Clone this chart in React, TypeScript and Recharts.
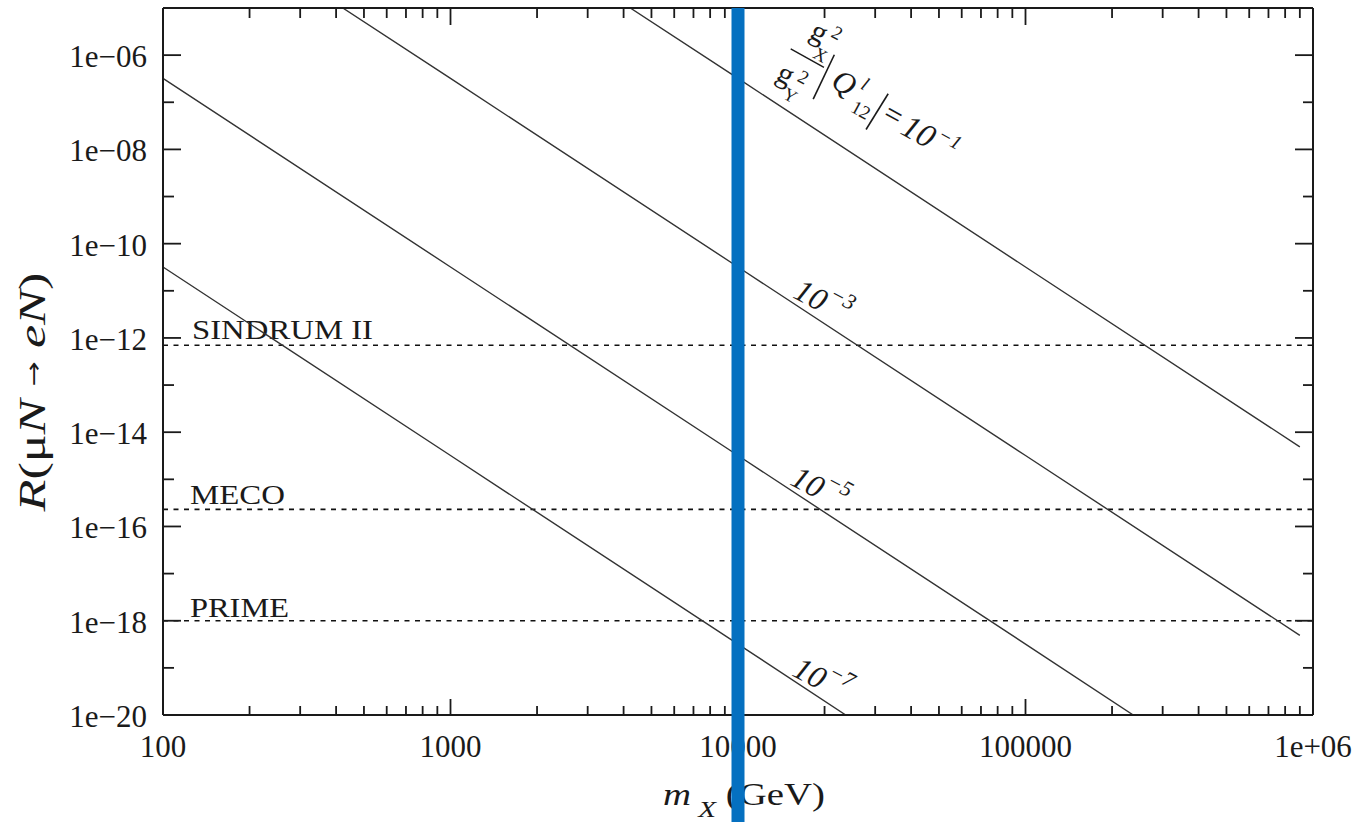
import React from 'react';
import { LineChart, Line, XAxis, YAxis, ReferenceLine } from 'recharts';

const SERIF = '"Liberation Serif", "Times New Roman", serif';
const INK = '#1a1a1a';
const BLUE = '#0570c0';
const W = 1358;
const H = 822;

// curve labelled 10^-7
const mass7 = [100, 1000, 10000, 23700];
const rate7 = [3.2e-11, 3.2e-15, 3.2e-19, 1e-20];
// curve labelled 10^-5
const mass5 = [100, 1000, 10000, 100000, 237000];
const rate5 = [3.2e-7, 3.2e-11, 3.2e-15, 3.2e-19, 1e-20];
// curve labelled 10^-3
const mass3 = [422, 1000, 10000, 100000, 900000];
const rate3 = [1e-5, 3.2e-7, 3.2e-11, 3.2e-15, 4.9e-19];
// curve labelled 10^-1
const mass1 = [4220, 10000, 100000, 900000];
const rate1 = [1e-5, 3.2e-7, 3.2e-11, 4.9e-15];

const limitNames = ['SINDRUM II', 'MECO', 'PRIME'];
const limitValues = [7e-13, 2.3e-16, 1e-18];

const markerMass = 10000;

const xTicks = [
  100, 200, 300, 400, 500, 600, 700, 800, 900,
  1000, 2000, 3000, 4000, 5000, 6000, 7000, 8000, 9000,
  10000, 20000, 30000, 40000, 50000, 60000, 70000, 80000, 90000,
  100000, 200000, 300000, 400000, 500000, 600000, 700000, 800000, 900000,
  1000000,
];
const xLabels: Record<number, string> = {
  100: '100', 1000: '1000', 10000: '10000', 100000: '100000', 1000000: '1e+06',
};
const yTicks = [
  1e-20, 1e-19, 1e-18, 1e-17, 1e-16, 1e-15, 1e-14, 1e-13,
  1e-12, 1e-11, 1e-10, 1e-9, 1e-8, 1e-7, 1e-6,
];

const toPoints = (ms: number[], rs: number[]) => ms.map((m, i) => ({ m, r: rs[i] }));
const curves = [
  toPoints(mass7, rate7),
  toPoints(mass5, rate5),
  toPoints(mass3, rate3),
  toPoints(mass1, rate1),
];

const exp10 = (v: number) => Math.round(Math.log10(v));
const isDecade = (v: number) => Math.abs(Math.log10(v) - exp10(v)) < 1e-6;
const yLabel = (v: number) => {
  const e = exp10(v);
  return `1e${e < 0 ? '\u2212' : '+'}${String(Math.abs(e)).padStart(2, '0')}`;
};

function BottomTick({ x, y, payload }: any) {
  const v = payload.value;
  const major = isDecade(v);
  return (
    <g>
      <line x1={x} x2={x} y1={y} y2={y - (major ? 16 : 9)} stroke={INK} strokeWidth={1.8} />
      {major && (
        <text x={x} y={y + 42} textAnchor="middle" fontSize={31} fontFamily={SERIF} fill={INK}>
          {xLabels[v]}
        </text>
      )}
    </g>
  );
}

function TopTick({ x, y, payload }: any) {
  const major = isDecade(payload.value);
  return <line x1={x} x2={x} y1={y} y2={y + (major ? 17 : 10)} stroke={INK} strokeWidth={1.8} />;
}

function LeftTick({ x, y, payload }: any) {
  const v = payload.value;
  const major = exp10(v) % 2 === 0;
  return (
    <g>
      <line x1={x} x2={x + (major ? 18 : 11)} y1={y} y2={y} stroke={INK} strokeWidth={1.8} />
      {major && (
        <text x={x - 16} y={y + 12} textAnchor="end" fontSize={31} fontFamily={SERIF} fill={INK}>
          {yLabel(v)}
        </text>
      )}
    </g>
  );
}

function RightTick({ x, y, payload }: any) {
  const major = exp10(payload.value) % 2 === 0;
  return <line x1={x} x2={x - (major ? 18 : 10)} y1={y} y2={y} stroke={INK} strokeWidth={1.8} />;
}

// thick marker at m_X = 10 TeV, running past the axis down to the figure edge
const MarkerBar = (p: any) => (
  <line x1={p.x1} x2={p.x2} y1={Math.min(p.y1, p.y2)} y2={H} stroke={BLUE} strokeWidth={13} />
);

const curveLabels = [
  { exp: '3', cx: 811, cy: 295 },
  { exp: '5', cx: 808, cy: 482 },
  { exp: '7', cx: 810, cy: 673 },
];
const limitLabelPos = [
  { x: 192, y: 339, len: 181 },
  { x: 190, y: 504, len: 95 },
  { x: 190, y: 617, len: 99 },
];

function Annotations() {
  return (
    <svg width={W} height={H} style={{ position: 'absolute', left: 0, top: 0 }} fontFamily={SERIF} fill={INK}>
      {limitNames.map((name, i) => (
        <text
          key={name}
          x={limitLabelPos[i].x}
          y={limitLabelPos[i].y}
          fontSize={28}
          textLength={limitLabelPos[i].len}
          lengthAdjust="spacingAndGlyphs"
        >
          {name}
        </text>
      ))}

      {curveLabels.map((l) => (
        <g key={l.exp} transform={`translate(${l.cx} ${l.cy}) rotate(28)`}>
          <text x={0} y={10.8} fontSize={32} fontStyle="italic" textAnchor="middle">10</text>
          <text x={17} y={-5} fontSize={22} fontStyle="italic">{'\u2212' + l.exp}</text>
        </g>
      ))}

      <g transform="translate(833 86) rotate(29)">
        <text x={-38} y={-31} fontSize={30} textAnchor="middle">g</text>
        <text x={-22} y={-42} fontSize={19} textAnchor="middle">2</text>
        <text x={-26} y={-15} fontSize={18} textAnchor="middle">X</text>
        <line x1={-55} y1={-12} x2={-17} y2={-12} stroke={INK} strokeWidth={1.4} />
        <text x={-47} y={22} fontSize={30} textAnchor="middle">g</text>
        <text x={-30} y={13} fontSize={19} textAnchor="middle">2</text>
        <text x={-33} y={35} fontSize={18} textAnchor="middle">Y</text>
        <line x1={-14} y1={-28} x2={-11} y2={21} stroke={INK} strokeWidth={1.6} />
        <text x={-3} y={2} fontSize={31} fontStyle="italic">Q</text>
        <text x={27} y={-11} fontSize={19} fontStyle="italic" textAnchor="middle">l</text>
        <text x={36} y={14} fontSize={19} textAnchor="middle">12</text>
        <line x1={52} y1={-20} x2={50} y2={22} stroke={INK} strokeWidth={1.6} />
        <text x={67} y={6} fontSize={31} textAnchor="middle">=</text>
        <text x={97} y={9} fontSize={33} fontStyle="italic" textAnchor="middle">10</text>
        <text x={128} y={-4} fontSize={20} fontStyle="italic" textAnchor="middle">{'\u22121'}</text>
      </g>

      <text
        transform="translate(45 392) rotate(-90)"
        textAnchor="middle"
        fontSize={38}
        textLength={239}
        lengthAdjust="spacingAndGlyphs"
      >
        <tspan fontStyle="italic">R</tspan>(μ<tspan fontStyle="italic">N</tspan>{' '}
        <tspan fontFamily='"DejaVu Sans", sans-serif' fontSize={22} dy={-4}>→</tspan>
        <tspan dy={4}> </tspan>
        <tspan fontStyle="italic">eN</tspan>)
      </text>

      <text x={663} y={805} fontSize={32} textLength={162} lengthAdjust="spacingAndGlyphs">
        <tspan fontStyle="italic">m</tspan>
        <tspan fontStyle="italic" fontSize={24} dy={12}> X</tspan>
        <tspan dy={-12}> (GeV)</tspan>
      </text>
    </svg>
  );
}

export default function App() {
  return (
    <div style={{ position: 'absolute', left: 0, top: 0, width: W, height: H, background: '#fff' }}>
      <Annotations />
      <div style={{ position: 'absolute', left: 0, top: 0 }}>
        <LineChart width={W} height={H} margin={{ top: 0, right: 0, bottom: 0, left: 0 }}>
          <XAxis
            xAxisId="b"
            dataKey="m"
            type="number"
            scale="log"
            domain={[100, 1000000]}
            allowDataOverflow
            ticks={xTicks}
            interval={0}
            height={107}
            tickSize={0}
            tickMargin={0}
            tickLine={false}
            axisLine={{ stroke: INK, strokeWidth: 2 }}
            tick={(p: any) => <BottomTick {...p} />}
          />
          <XAxis
            xAxisId="t"
            orientation="top"
            dataKey="m"
            type="number"
            scale="log"
            domain={[100, 1000000]}
            allowDataOverflow
            ticks={xTicks}
            interval={0}
            height={8}
            tickSize={0}
            tickMargin={0}
            tickLine={false}
            axisLine={{ stroke: INK, strokeWidth: 2 }}
            tick={(p: any) => <TopTick {...p} />}
          />
          <YAxis
            yAxisId="l"
            type="number"
            scale="log"
            domain={[1e-20, 1e-5]}
            allowDataOverflow
            ticks={yTicks}
            interval={0}
            width={163}
            tickSize={0}
            tickMargin={0}
            tickLine={false}
            axisLine={{ stroke: INK, strokeWidth: 2 }}
            tick={(p: any) => <LeftTick {...p} />}
          />
          <YAxis
            yAxisId="r"
            orientation="right"
            type="number"
            scale="log"
            domain={[1e-20, 1e-5]}
            allowDataOverflow
            ticks={yTicks}
            interval={0}
            width={45}
            tickSize={0}
            tickMargin={0}
            tickLine={false}
            axisLine={{ stroke: INK, strokeWidth: 2 }}
            tick={(p: any) => <RightTick {...p} />}
          />
          {limitValues.map((v, i) => (
            <ReferenceLine
              key={limitNames[i]}
              xAxisId="b"
              yAxisId="l"
              y={v}
              stroke="#111"
              strokeWidth={1.6}
              strokeDasharray="5 5.5"
            />
          ))}
          {curves.map((data, i) => (
            <Line
              key={i}
              xAxisId="b"
              yAxisId="l"
              data={data}
              dataKey="r"
              type="linear"
              stroke="#333"
              strokeWidth={1.4}
              dot={false}
              activeDot={false}
              isAnimationActive={false}
            />
          ))}
          <ReferenceLine
            xAxisId="b"
            yAxisId="l"
            x={markerMass}
            stroke={BLUE}
            strokeWidth={13}
            shape={MarkerBar}
            zIndex={2000}
          />
        </LineChart>
      </div>
    </div>
  );
}
